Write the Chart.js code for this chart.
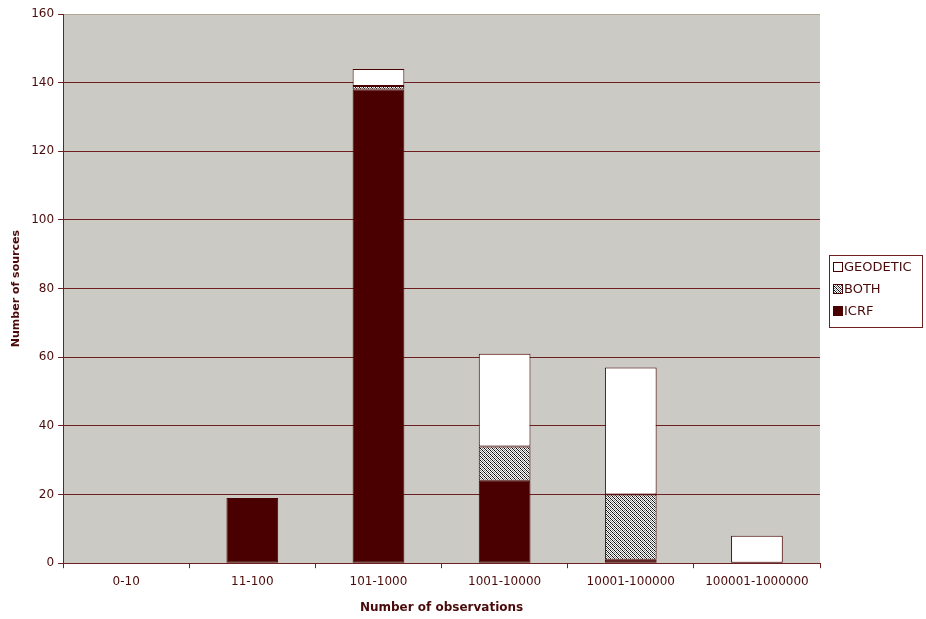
<!DOCTYPE html>
<html>
<head>
<meta charset="utf-8">
<script src="https://cdn.jsdelivr.net/npm/chart.js@4/dist/chart.umd.min.js"></script>
<style>
  html, body { margin: 0; padding: 0; background: #ffffff; }
  #wrap { width: 926px; height: 619px; position: relative; }
</style>
</head>
<body>
<div id="wrap"><canvas id="chart"></canvas></div>
<script>
// ---- data ----
const categories = ["0-10", "11-100", "101-1000", "1001-10000", "10001-100000", "100001-1000000"];
const icrfValues = [0, 19, 138, 24, 1, 0];
const bothValues = [0, 0, 1, 10, 19, 0];
const geodeticValues = [0, 0, 5, 27, 37, 8];
const yTicks = [0, 20, 40, 60, 80, 100, 120, 140, 160];

const maroon = "#4a0000";
const inkColor = "#4a0a0a";
const gridColor = "#6e1f1f";
const plotBg = "#cccac5";

// speckled black/white fill used for "BOTH"
function makeHatch() {
    const c = document.createElement("canvas");
    c.width = 4; c.height = 4;
    const g = c.getContext("2d");
    const rows = [
        ["#000", "#fff", "#777", "#fff"],
        ["#fff", "#222", "#fff", "#999"],
        ["#777", "#fff", "#000", "#fff"],
        ["#fff", "#999", "#fff", "#222"]
    ];
    rows.forEach(function (row, y) {
        row.forEach(function (col, x) {
            g.fillStyle = col;
            g.fillRect(x, y, 1, 1);
        });
    });
    return g.createPattern(c, "repeat");
}
const hatch = makeHatch();

// gray plot background
const plotBackground = {
    id: "plotBackground",
    beforeDraw: function (chart) {
        const a = chart.chartArea;
        const ctx = chart.ctx;
        ctx.save();
        ctx.fillStyle = plotBg;
        ctx.fillRect(a.left, a.top, a.right - a.left, a.bottom - a.top);
        ctx.restore();
    }
};

// boxed legend at the right, in reverse order
const boxLegend = {
    id: "boxLegend",
    afterDraw: function (chart) {
        const ctx = chart.ctx;
        const x = 829, y = 255, w = 93, h = 72;
        ctx.save();
        ctx.fillStyle = "#ffffff";
        ctx.fillRect(x, y, w, h);
        ctx.strokeStyle = gridColor;
        ctx.lineWidth = 1;
        ctx.strokeRect(x + 0.5, y + 0.5, w, h);
        const items = chart.data.datasets.slice().reverse();
        ctx.font = "13px 'DejaVu Sans'";
        ctx.textBaseline = "middle";
        items.forEach(function (ds, i) {
            const cy = y + 12 + i * 22;
            ctx.fillStyle = ds.backgroundColor;
            ctx.fillRect(x + 4, cy - 5, 10, 10);
            ctx.strokeStyle = maroon;
            ctx.strokeRect(x + 4.5, cy - 4.5, 9, 9);
            ctx.fillStyle = inkColor;
            ctx.fillText(ds.label, x + 15, cy + 1);
        });
        ctx.restore();
    }
};

const commonDs = {
    borderColor: maroon,
    borderWidth: function (c) { return c.raw ? 1 : 0; },
    barPercentage: 0.41,
    categoryPercentage: 1.0,
    borderSkipped: false
};

new Chart(document.getElementById("chart"), {
    type: "bar",
    data: {
        labels: categories,
        datasets: [
            Object.assign({ label: "ICRF", data: icrfValues, backgroundColor: maroon }, commonDs),
            Object.assign({ label: "BOTH", data: bothValues, backgroundColor: hatch }, commonDs),
            Object.assign({ label: "GEODETIC", data: geodeticValues, backgroundColor: "#ffffff" }, commonDs)
        ]
    },
    options: {
        responsive: true,
        maintainAspectRatio: false,
        animation: false,
        layout: { padding: { top: 14, right: 106, left: 10, bottom: 4 } },
        plugins: {
            legend: { display: false },
            tooltip: { enabled: false }
        },
        scales: {
            x: {
                stacked: true,
                grid: {
                    offset: true,
                    drawOnChartArea: false,
                    drawTicks: true,
                    tickLength: 5,
                    color: gridColor
                },
                border: { color: gridColor, width: 1 },
                ticks: {
                    color: inkColor,
                    font: { family: "'DejaVu Sans'", size: 12 },
                    padding: 6,
                    maxRotation: 0
                },
                title: {
                    display: true,
                    text: "Number of observations",
                    color: inkColor,
                    font: { family: "'DejaVu Sans'", size: 12, weight: "bold" },
                    padding: { top: 6, bottom: 0 }
                }
            },
            y: {
                stacked: true,
                min: 0,
                max: 160,
                afterBuildTicks: function (axis) {
                    axis.ticks = yTicks.map(function (v) { return { value: v }; });
                },
                grid: {
                    color: function (c) { return c.tick && c.tick.value === 160 ? "#b3a897" : gridColor; },
                    tickColor: gridColor,
                    tickLength: 5
                },
                border: { color: gridColor, width: 1 },
                ticks: {
                    color: inkColor,
                    font: { family: "'DejaVu Sans'", size: 12 },
                    padding: 4
                },
                title: {
                    display: true,
                    text: "Number of sources",
                    color: inkColor,
                    font: { family: "'DejaVu Sans'", size: 11, weight: "bold" },
                    padding: { top: 0, bottom: 4 }
                }
            }
        }
    },
    plugins: [plotBackground, boxLegend]
});
</script>
</body>
</html>
